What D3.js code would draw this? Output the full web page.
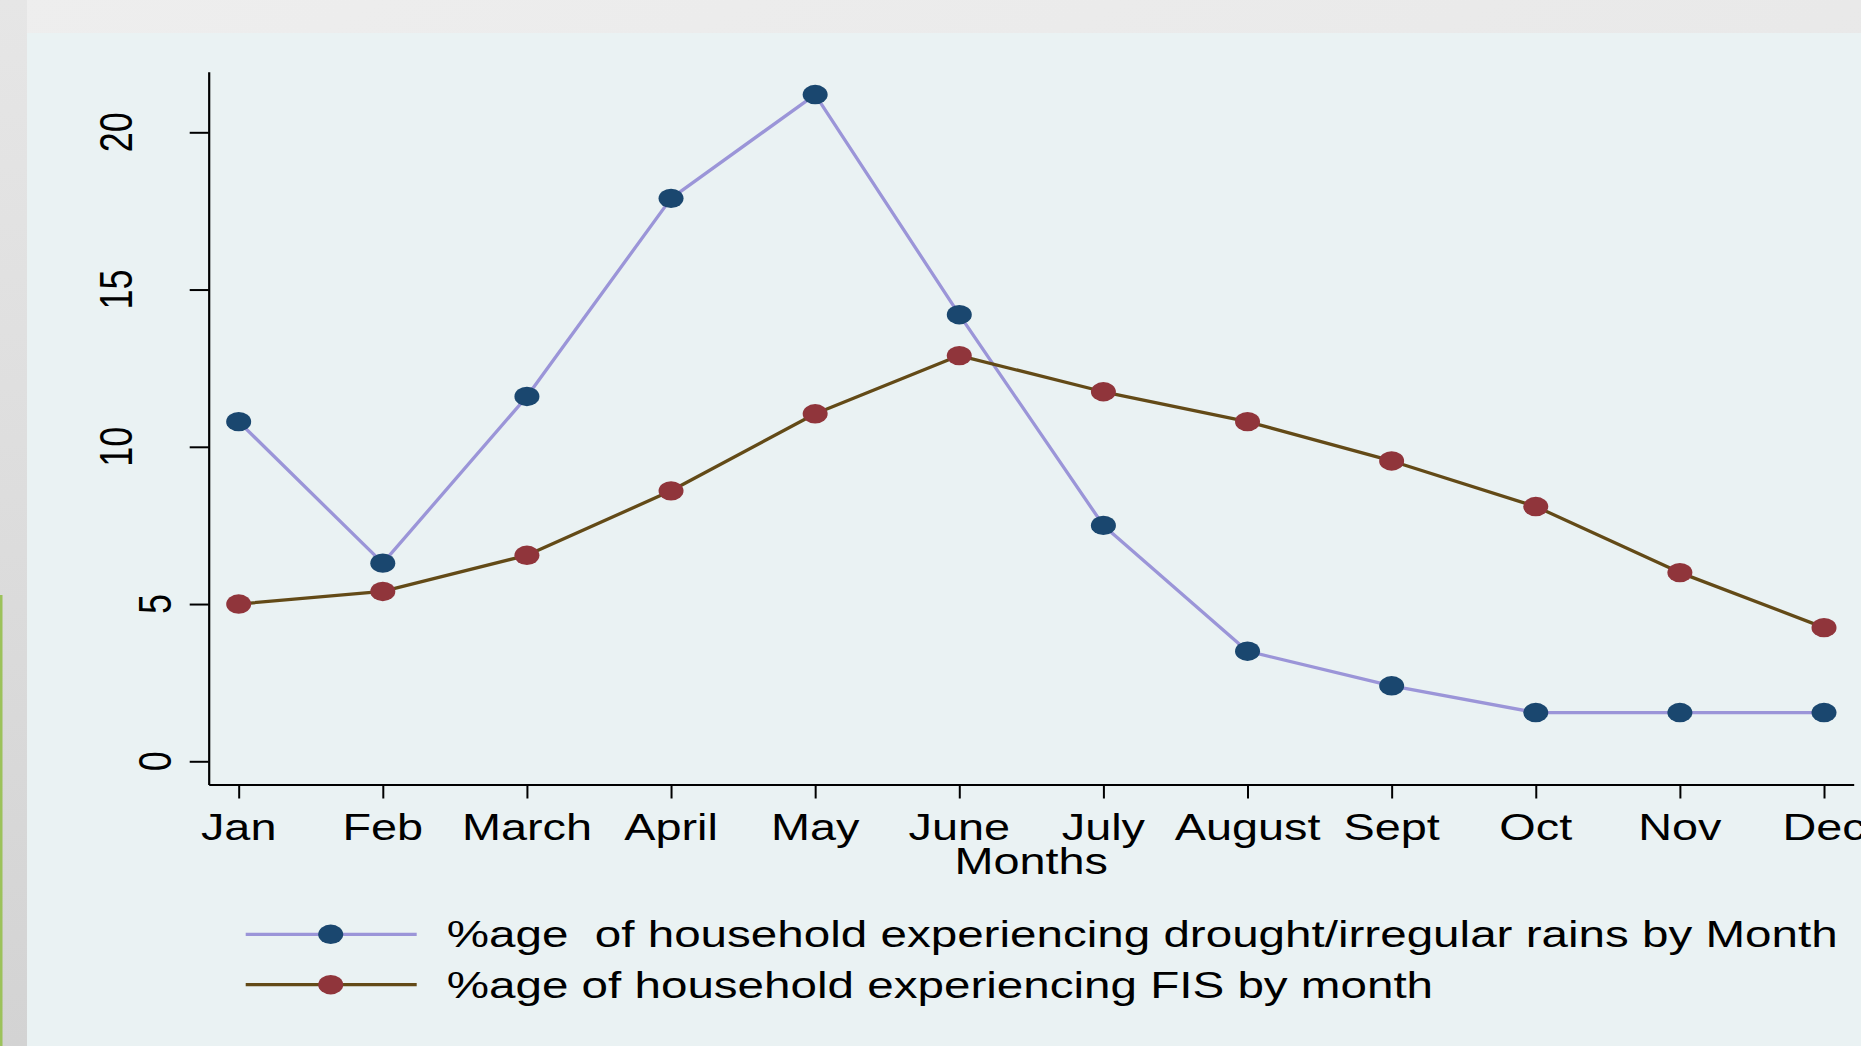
<!DOCTYPE html>
<html>
<head>
<meta charset="utf-8">
<script src="https://cdn.jsdelivr.net/npm/d3@7/dist/d3.min.js"></script>
<style>
  html, body { margin: 0; padding: 0; background: #ececec; overflow: hidden; }
  svg { display: block; }
  text { font-family: "Liberation Sans", Arial, sans-serif; fill: #000; }
</style>
</head>
<body>
<svg id="chart" width="1861" height="1046"></svg>
<script>
// ---- data ----
const months = ["Jan", "Feb", "March", "April", "May", "June", "July", "August", "Sept", "Oct", "Nov", "Dec"];
const droughtValues = [10.8, 6.3, 11.6, 17.9, 21.2, 14.2, 7.5, 3.5, 2.4, 1.55, 1.55, 1.55];
const fisValues = [5.0, 5.4, 6.55, 8.6, 11.05, 12.9, 11.75, 10.8, 9.55, 8.1, 6.0, 4.25];
const yTicks = [0, 5, 10, 15, 20];
const seriesNames = [
  "%age  of household experiencing drought/irregular rains by Month",
  "%age of household experiencing FIS by month"
];
const xTitle = "Months";

// ---- layout ----
const W = 1861, H = 1046;
const SX = 1.3; // horizontal stretch of the reference image
const svg = d3.select("#chart");

const defs = svg.append("defs");
const bgGrad = defs.append("linearGradient").attr("id", "bg").attr("x1", 0).attr("y1", 0).attr("x2", 1).attr("y2", 1);
bgGrad.append("stop").attr("offset", "0%").attr("stop-color", "#eeeeee");
bgGrad.append("stop").attr("offset", "100%").attr("stop-color", "#e4e4e4");
const leftGrad = defs.append("linearGradient").attr("id", "leftg").attr("x1", 0).attr("y1", 0).attr("x2", 0).attr("y2", 1);
leftGrad.append("stop").attr("offset", "0%").attr("stop-color", "#e6e6e6");
leftGrad.append("stop").attr("offset", "100%").attr("stop-color", "#d3d3d3");

svg.append("rect").attr("x", 0).attr("y", 0).attr("width", W).attr("height", H).attr("fill", "url(#bg)");
svg.append("rect").attr("x", 0).attr("y", 0).attr("width", 27).attr("height", H).attr("fill", "url(#leftg)");
svg.append("rect").attr("x", 0).attr("y", 595).attr("width", 2.5).attr("height", H - 595).attr("fill", "#9cc25b");
svg.append("rect").attr("x", 27).attr("y", 33).attr("width", W - 27).attr("height", H - 33).attr("fill", "#eaf2f3");

const x = d3.scaleLinear().domain([-0.208, 11.206]).range([208.7, 1853.7]);
const y = d3.scaleLinear().domain([-0.738, 21.927]).range([784.5, 71.7]);

// ---- axes ----
const yAxis = svg.append("g").attr("transform", `translate(${x(-0.208)},0)`)
  .call(d3.axisLeft(y).tickValues(yTicks).tickSize(19).tickSizeOuter(0).tickFormat(d3.format("d")));
yAxis.select(".domain").attr("stroke", "#000").attr("stroke-width", 2.2);
yAxis.selectAll(".tick line").attr("stroke", "#000").attr("stroke-width", 2);
yAxis.selectAll(".tick text").remove();

const yLab = svg.append("g");
yTicks.forEach(t => {
  const label = String(t);
  const bx = label.length > 1 ? 131.7 : 170.7;
  yLab.append("text")
    .attr("transform", `translate(${bx},${y(t)}) scale(${SX},1) rotate(-90)`)
    .attr("text-anchor", "middle")
    .attr("font-size", 36)
    .text(label);
});

const xAxis = svg.append("g").attr("transform", `translate(0,${y(-0.738)})`)
  .call(d3.axisBottom(x).tickValues(d3.range(months.length)).tickSize(14).tickSizeOuter(0).tickFormat(""));
xAxis.select(".domain").attr("stroke", "#000").attr("stroke-width", 2.2);
xAxis.selectAll(".tick line").attr("stroke", "#000").attr("stroke-width", 2);
xAxis.selectAll(".tick text").remove();

const xLab = svg.append("g");
months.forEach((m, i) => {
  xLab.append("text")
    .attr("transform", `translate(${x(i)},840) scale(${SX},1)`)
    .attr("text-anchor", "middle")
    .attr("font-size", 36)
    .text(m);
});
svg.append("text")
  .attr("transform", `translate(${(x(-0.208) + x(11.206)) / 2},873.5) scale(${SX},1)`)
  .attr("text-anchor", "middle")
  .attr("font-size", 36)
  .text(xTitle);

// ---- series ----
const series = [
  { values: droughtValues, line: "#9b95d8", marker: "#1a476f" },
  { values: fisValues, line: "#634a17", marker: "#90353b" }
];
const lineGen = d3.line().x((d, i) => x(i)).y(d => y(d));
series.forEach(s => {
  svg.append("path").datum(s.values).attr("d", lineGen)
    .attr("fill", "none").attr("stroke", s.line).attr("stroke-width", 3.3)
    .attr("stroke-linejoin", "round");
});
series.forEach(s => {
  svg.append("g").selectAll("ellipse").data(s.values).join("ellipse")
    .attr("cx", (d, i) => x(i)).attr("cy", d => y(d))
    .attr("rx", 12.5).attr("ry", 9.7).attr("fill", s.marker);
});

// ---- legend ----
const legendY = [934.3, 984.7];
series.forEach((s, k) => {
  const g = svg.append("g");
  g.append("line").attr("x1", 245.7).attr("x2", 416.7).attr("y1", legendY[k]).attr("y2", legendY[k])
    .attr("stroke", s.line).attr("stroke-width", 3.3);
  g.append("ellipse").attr("cx", 330.7).attr("cy", legendY[k]).attr("rx", 12.5).attr("ry", 9.7).attr("fill", s.marker);
  g.append("text")
    .attr("transform", `translate(446.7,${legendY[k] + 13}) scale(${SX},1)`)
    .attr("font-size", 36.6)
    .style("white-space", "pre")
    .attr("xml:space", "preserve")
    .text(seriesNames[k]);
});
</script>
</body>
</html>
